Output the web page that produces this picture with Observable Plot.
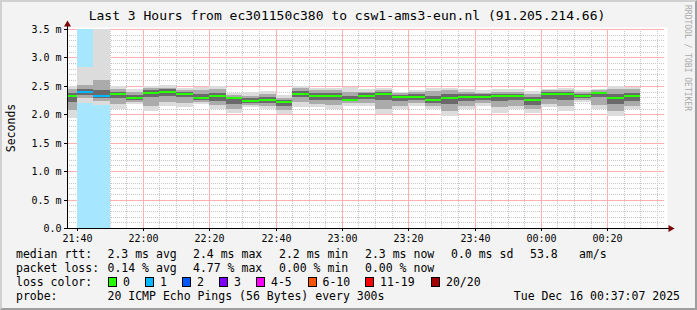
<!DOCTYPE html>
<html><head><meta charset="utf-8">
<script src="https://cdn.jsdelivr.net/npm/d3@7"></script>
<script src="https://cdn.jsdelivr.net/npm/@observablehq/plot@0.6"></script>
<style>
html,body{margin:0;padding:0;background:#fff;}
#chart{position:relative;width:697px;height:310px;background:#f3f3f3;overflow:hidden;font-family:"DejaVu Sans Mono",monospace;color:#000;}
#chart svg{position:absolute;left:0;top:0;}
.t{position:absolute;white-space:pre;line-height:14px;font-size:11.5px;}
.sw{position:absolute;width:7px;height:8px;border:1px solid #000;}
#frame{position:absolute;left:0;top:0;width:697px;height:310px;box-sizing:border-box;border-style:solid;border-width:2px;border-color:#d0d0d0 #9e9e9e #9e9e9e #d0d0d0;pointer-events:none;}
</style></head><body>
<div id="chart"></div>
<script>
// ---- data ----
const stepTimes = ["21:35","21:40","21:45","21:50","21:55","22:00","22:05","22:10","22:15","22:20","22:25","22:30","22:35","22:40","22:45","22:50","22:55","23:00","23:05","23:10","23:15","23:20","23:25","23:30","23:35","23:40","23:45","23:50","23:55","00:00","00:05","00:10","00:15","00:20","00:25"];
const median = [2.32,2.40,2.33,2.35,2.29,2.38,2.40,2.36,2.28,2.33,2.28,2.23,2.26,2.21,2.36,2.33,2.32,2.26,2.33,2.35,2.31,2.31,2.26,2.28,2.30,2.31,2.32,2.32,2.25,2.36,2.36,2.33,2.37,2.29,2.32];
const pingMin = [1.94,2.20,2.16,2.09,2.18,2.06,2.15,2.12,2.18,2.09,2.03,2.12,2.09,2.00,2.12,2.12,2.09,2.15,2.15,2.00,2.09,2.15,2.09,1.97,2.09,2.15,2.03,2.09,2.03,2.12,2.06,2.21,2.09,1.97,2.09];
const pingMax = [2.50,2.83,3.50,2.50,2.45,2.50,2.51,2.47,2.48,2.50,2.38,2.40,2.41,2.34,2.50,2.47,2.47,2.48,2.44,2.47,2.40,2.42,2.47,2.47,2.44,2.42,2.44,2.44,2.41,2.44,2.46,2.42,2.44,2.50,2.48];
const pingLo2 = [2.08,2.28,2.24,2.18,2.22,2.15,2.22,2.20,2.22,2.16,2.10,2.16,2.14,2.07,2.22,2.18,2.16,2.19,2.20,2.10,2.15,2.20,2.15,2.06,2.15,2.20,2.12,2.15,2.10,2.18,2.14,2.25,2.16,2.06,2.15];
const pingHi2 = [2.44,2.52,2.60,2.45,2.40,2.46,2.47,2.43,2.42,2.44,2.34,2.33,2.36,2.29,2.46,2.43,2.42,2.40,2.40,2.42,2.37,2.39,2.41,2.42,2.40,2.38,2.40,2.40,2.36,2.42,2.42,2.39,2.42,2.44,2.44];
const pingLo3 = [2.22,2.34,2.29,2.28,2.26,2.30,2.32,2.30,2.25,2.24,2.18,2.19,2.20,2.14,2.31,2.26,2.25,2.23,2.27,2.26,2.24,2.26,2.20,2.18,2.23,2.26,2.24,2.25,2.17,2.27,2.26,2.28,2.30,2.18,2.24];
const pingHi3 = [2.38,2.45,2.42,2.40,2.34,2.42,2.44,2.40,2.35,2.38,2.31,2.28,2.31,2.25,2.41,2.38,2.37,2.33,2.37,2.39,2.34,2.35,2.32,2.35,2.35,2.35,2.36,2.36,2.30,2.39,2.39,2.36,2.40,2.36,2.37];
const lossCount = [0,1,1,0,0,0,0,0,0,0,0,0,0,0,0,0,0,0,0,0,0,0,0,0,0,0,0,0,0,0,0,0,0,0,0];

const lossLabels = ["0","1","2","3","4-5","6-10","11-19","20/20"];
const lossMaxCount = [0,1,2,3,5,10,19,20];
const lossColors = ["#26ff00","#00b8ff","#0059ff","#7e00ff","#ff00ff","#ff5500","#ff0000","#a10000"];

const yTickValues = [0,0.5,1.0,1.5,2.0,2.5,3.0,3.5];
const yTickLabels = ["0.0","0.5 m","1.0 m","1.5 m","2.0 m","2.5 m","3.0 m","3.5 m"];
const xTickLabels = ["21:40","22:00","22:20","22:40","23:00","23:20","23:40","00:00","00:20"];

const titleText = "Last 3 Hours from ec301150c380 to csw1-ams3-eun.nl (91.205.214.66)";
const rttStats = ["2.3 ms avg","2.4 ms max","2.2 ms min","2.3 ms now","0.0 ms sd","53.8","am/s"];
const lossStats = ["0.14 % avg","4.77 % max","0.00 % min","0.00 % now"];
const probeText = "20 ICMP Echo Pings (56 Bytes) every 300s";
const dateText = "Tue Dec 16 00:37:07 2025";

// ---- build ----
const parseT = s => { const [h,m] = s.split(":").map(Number); return new Date(Date.UTC(2025, 11, h < 12 ? 16 : 15, h, m)); };
const xStart = new Date(Date.UTC(2025,11,15,21,37,7));
const xEnd = new Date(Date.UTC(2025,11,16,0,37,7));
const lossIdx = c => lossMaxCount.findIndex(m => c <= m);
const rows = stepTimes.map((s,i) => {
  const start = parseT(s);
  const c = lossColors[lossIdx(lossCount[i])];
  return {start, end: new Date(+start + 300000), med: median[i], min: pingMin[i], max: pingMax[i],
    lo2: pingLo2[i], hi2: pingHi2[i], lo3: pingLo3[i], hi3: pingHi3[i], loss: lossCount[i],
    color: c, bg: d3.interpolateRgb(c, "#ffffff")(0.65)};
});
const lossRows = rows.filter(d => d.loss > 0);
const xTickDates = xTickLabels.map(parseT);
const minorX = d3.utcMinute.every(5).range(xStart, xEnd).filter(d => d.getUTCMinutes() % 20 !== 0);
const minorY = d3.range(1, 35).filter(i => i % 5 !== 0).map(i => i / 10);
const majorY = yTickValues.slice(1);

const plot = Plot.plot({
  width: 697, height: 310,
  marginLeft: 67, marginRight: 33, marginTop: 29, marginBottom: 82,
  x: {type: "utc", domain: [xStart, xEnd], round: true},
  y: {domain: [0, 3.5], round: true},
  style: {background: "transparent", fontFamily: "DejaVu Sans Mono", fontSize: "10px", overflow: "visible"},
  marks: [
    Plot.frame({fill: "#ffffff", stroke: null, insetTop: -2, insetRight: -3}),
    Plot.ruleY(minorY, {stroke: "#c8c8c8", strokeDasharray: "1,1"}),
    Plot.ruleX(minorX, {stroke: "#c8c8c8", strokeDasharray: "1,1"}),
    Plot.ruleY(majorY, {stroke: "#ffb0b0"}),
    Plot.ruleX(xTickDates, {stroke: "#ffb0b0"}),
    Plot.rect(lossRows, {x1: "start", x2: "end", y1: 0, y2: 3.5, fill: "bg", clip: true}),
    Plot.rect(rows, {x1: "start", x2: "end", y1: "min", y2: "max", fill: "#dcdcdc", clip: true}),
    Plot.rect(rows, {x1: "start", x2: "end", y1: "lo2", y2: "hi2", fill: "#ababab", clip: true}),
    Plot.rect(rows, {x1: "start", x2: "end", y1: "lo3", y2: "hi3", fill: "#6a6a6a", clip: true}),
    Plot.rect(rows, {x1: "start", x2: "end", y1: "med", y2: "med", insetTop: -1, insetBottom: -1, fill: "color", clip: true}),
    Plot.axisY({ticks: yTickValues, tickFormat: d => yTickLabels[yTickValues.indexOf(d)], tickSize: 3, tickPadding: 3, label: null}),
    Plot.axisX({ticks: xTickDates, tickFormat: d => xTickLabels[xTickDates.findIndex(t => +t === +d)], tickSize: 3, tickPadding: 3, label: null}),
    Plot.ruleY([0], {stroke: "#000", insetRight: -5}),
    Plot.ruleX([xStart], {stroke: "#000", insetTop: -4}),
    Plot.dot([xStart], {x: d => d, y: 3.5, dy: -5, symbol: "triangle", r: 2.6, fill: "#7f0000", stroke: null}),
    Plot.dot([xEnd], {x: d => d, y: 0, dx: 6, symbol: "triangle", rotate: 90, r: 2.6, fill: "#7f0000", stroke: null})
  ]
});
const chart = document.getElementById("chart");
chart.appendChild(plot);

function addText(txt, left, top, extra) {
  const el = document.createElement("div");
  el.className = "t";
  el.textContent = txt;
  el.style.left = left + "px";
  el.style.top = top + "px";
  if (extra) Object.assign(el.style, extra);
  chart.appendChild(el);
  return el;
}
// title
addText(titleText, 0, 8, {width: "694px", textAlign: "center", fontSize: "13px", lineHeight: "16px"});
// y label
addText("Seconds", 11, 128, {transform: "translate(-50%,-50%) rotate(-90deg)"});
// watermark
addText("RRDTOOL / TOBI OETIKER", 687, 58, {transform: "translate(-50%,-50%) rotate(90deg)", fontSize: "8px", lineHeight: "9px", color: "#aaaaaa"});
// legend
const rowTop = [246.5, 260.5, 274.5, 288.5];
addText("median rtt:", 16, rowTop[0]);
const rttX = [107.5, 193, 279, 365, 451, 530, 579];
rttStats.forEach((s,i) => addText(s, rttX[i], rowTop[0]));
addText("packet loss:", 16, rowTop[1]);
lossStats.forEach((s,i) => addText(s, rttX[i], rowTop[1]));
addText("loss color:", 16, rowTop[2]);
const swX = [108, 145, 182, 219, 256, 307.5, 365, 431];
lossLabels.forEach((l,i) => {
  const sw = document.createElement("div");
  sw.className = "sw";
  sw.style.left = swX[i] + "px";
  sw.style.top = "277px";
  sw.style.background = lossColors[i];
  chart.appendChild(sw);
  addText(l, swX[i] + 15, rowTop[2]);
});
addText("probe:", 16, rowTop[3]);
addText(probeText, 107.5, rowTop[3]);
addText(dateText, 0, rowTop[3], {left: "auto", right: "17px"});

const fr = document.createElement("div");
fr.id = "frame";
chart.appendChild(fr);
</script>
</body></html>
